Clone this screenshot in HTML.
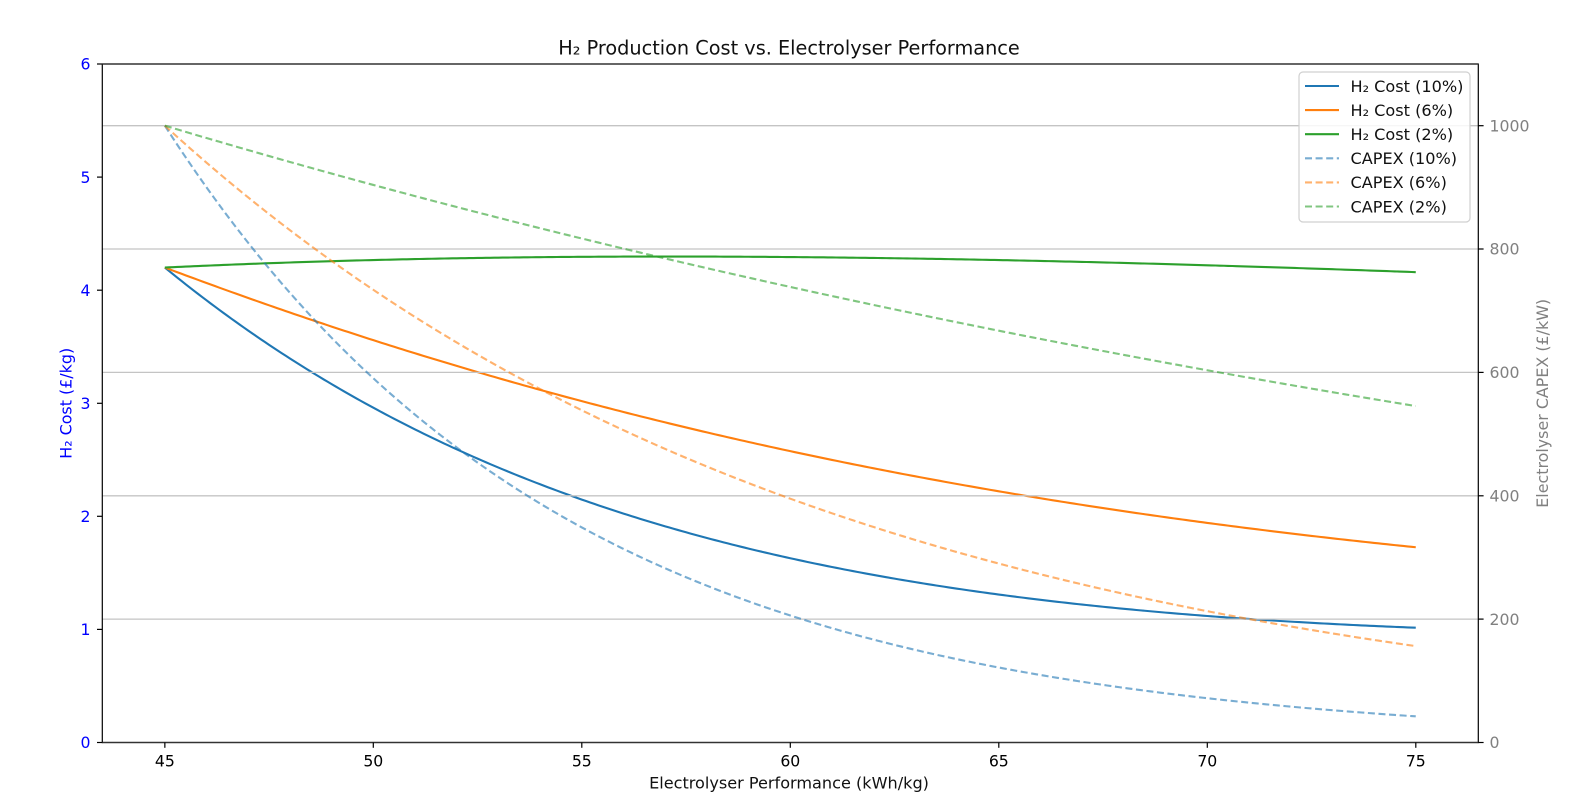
<!DOCTYPE html>
<html><head><meta charset="utf-8">
<style>
html,body{margin:0;padding:0;background:#fff;}
svg{display:block;}
text{font-family:"DejaVu Sans","Liberation Sans",sans-serif;}
</style></head>
<body>
<svg id="c" width="1570" height="804" viewBox="0 0 1570 804" xmlns="http://www.w3.org/2000/svg">
<rect width="1570" height="804" fill="#fff"/>
<g id="solid" fill="none" stroke-width="2.1" stroke-linejoin="round"></g>
<g id="grid" stroke="#c4c4c4" stroke-width="1.3">
<line x1="102.3" x2="1478.3" y1="619.1" y2="619.1"/>
<line x1="102.3" x2="1478.3" y1="495.8" y2="495.8"/>
<line x1="102.3" x2="1478.3" y1="372.4" y2="372.4"/>
<line x1="102.3" x2="1478.3" y1="249.0" y2="249.0"/>
<line x1="102.3" x2="1478.3" y1="125.7" y2="125.7"/>
</g>
<g id="dashed" fill="none" stroke-width="2.1" stroke-dasharray="7 3.6" stroke-opacity="0.6"></g>
<!-- spines -->
<g stroke="#000" stroke-width="1.2">
<line x1="102.3" x2="102.3" y1="63.5" y2="743.1"/>
<line x1="1478.3" x2="1478.3" y1="63.5" y2="743.1"/>
<line x1="102.3" x2="1478.3" y1="64" y2="64" stroke="#333" stroke-width="1.5"/>
<line x1="102.3" x2="1478.3" y1="742.5" y2="742.5" stroke="#333" stroke-width="1.5"/>
</g>
<!-- ticks -->
<g stroke="#000" stroke-width="1.2">
<line x1="97" x2="102.3" y1="742.5" y2="742.5"/>
<line x1="97" x2="102.3" y1="629.4" y2="629.4"/>
<line x1="97" x2="102.3" y1="516.3" y2="516.3"/>
<line x1="97" x2="102.3" y1="403.3" y2="403.3"/>
<line x1="97" x2="102.3" y1="290.2" y2="290.2"/>
<line x1="97" x2="102.3" y1="177.1" y2="177.1"/>
<line x1="97" x2="102.3" y1="64" y2="64"/>
<line x1="1478.3" x2="1483.6" y1="742.5" y2="742.5"/>
<line x1="1478.3" x2="1483.6" y1="619.1" y2="619.1"/>
<line x1="1478.3" x2="1483.6" y1="495.8" y2="495.8"/>
<line x1="1478.3" x2="1483.6" y1="372.4" y2="372.4"/>
<line x1="1478.3" x2="1483.6" y1="249.0" y2="249.0"/>
<line x1="1478.3" x2="1483.6" y1="125.7" y2="125.7"/>
<line x1="164.85" x2="164.85" y1="742.5" y2="747.8"/>
<line x1="373.3" x2="373.3" y1="742.5" y2="747.8"/>
<line x1="581.8" x2="581.8" y1="742.5" y2="747.8"/>
<line x1="790.3" x2="790.3" y1="742.5" y2="747.8"/>
<line x1="998.8" x2="998.8" y1="742.5" y2="747.8"/>
<line x1="1207.3" x2="1207.3" y1="742.5" y2="747.8"/>
<line x1="1415.8" x2="1415.8" y1="742.5" y2="747.8"/>
</g>
<!-- left tick labels -->
<g fill="#0000ff" font-size="15.7" text-anchor="end">
<text x="90.5" y="748.2">0</text>
<text x="90.5" y="635.1">1</text>
<text x="90.5" y="522">2</text>
<text x="90.5" y="409">3</text>
<text x="90.5" y="295.9">4</text>
<text x="90.5" y="182.8">5</text>
<text x="90.5" y="69.7">6</text>
</g>
<!-- right tick labels -->
<g fill="#808080" font-size="15.7" text-anchor="start">
<text x="1489.5" y="748.2">0</text>
<text x="1489.5" y="624.8">200</text>
<text x="1489.5" y="501.5">400</text>
<text x="1489.5" y="378.1">600</text>
<text x="1489.5" y="254.7">800</text>
<text x="1489.5" y="131.4">1000</text>
</g>
<!-- x tick labels -->
<g fill="#000" font-size="15.7" text-anchor="middle">
<text x="164.85" y="766.5">45</text>
<text x="373.3" y="766.5">50</text>
<text x="581.8" y="766.5">55</text>
<text x="790.3" y="766.5">60</text>
<text x="998.8" y="766.5">65</text>
<text x="1207.3" y="766.5">70</text>
<text x="1415.8" y="766.5">75</text>
</g>
<text x="789" y="788.5" font-size="16.1" text-anchor="middle" fill="#111">Electrolyser Performance (kWh/kg)</text>
<text x="789" y="54.5" font-size="19.3" text-anchor="middle" fill="#111">H₂ Production Cost vs. Electrolyser Performance</text>
<text x="71.5" y="403.3" font-size="15.9" text-anchor="middle" fill="#0000ff" transform="rotate(-90 71.5 403.3)">H₂ Cost (£/kg)</text>
<text x="1548" y="403.3" font-size="15.9" text-anchor="middle" fill="#808080" transform="rotate(-90 1548 403.3)">Electrolyser CAPEX (£/kW)</text>
<!-- legend -->
<g>
<rect x="1299" y="72" width="171" height="150" rx="4" ry="4" fill="#fff" fill-opacity="0.85" stroke="#d0d0d0" stroke-width="1.2"/>
<g stroke-width="2.1">
<line x1="1305" x2="1339" y1="86" y2="86" stroke="#1f77b4"/>
<line x1="1305" x2="1339" y1="110.1" y2="110.1" stroke="#ff7f0e"/>
<line x1="1305" x2="1339" y1="134.2" y2="134.2" stroke="#2ca02c"/>
<g stroke-dasharray="7 3.6" stroke-opacity="0.6">
<line x1="1305" x2="1339" y1="158.3" y2="158.3" stroke="#1f77b4"/>
<line x1="1305" x2="1339" y1="182.4" y2="182.4" stroke="#ff7f0e"/>
<line x1="1305" x2="1339" y1="206.5" y2="206.5" stroke="#2ca02c"/>
</g>
</g>
<g font-size="16.1" fill="#111">
<text x="1350.5" y="91.8">H₂ Cost (10%)</text>
<text x="1350.5" y="115.9">H₂ Cost (6%)</text>
<text x="1350.5" y="140">H₂ Cost (2%)</text>
<text x="1350.5" y="164.1">CAPEX (10%)</text>
<text x="1350.5" y="188.2">CAPEX (6%)</text>
<text x="1350.5" y="212.3">CAPEX (2%)</text>
</g>
</g>
<script>
(function(){
  var NS="http://www.w3.org/2000/svg";
  function px(x){return 102.3+(x-43.5)*41.697;}
  function pyL(v){return 742.5-v*113.083;}
  function pyR(v){return 742.5-v*0.616818;}
  var rates=[0.10,0.06,0.02], cols=["#1f77b4","#ff7f0e","#2ca02c"];
  var gs=document.getElementById("solid"), gd=document.getElementById("dashed");
  for(var k=0;k<3;k++){
    var r=rates[k], ds="", dd="";
    for(var i=0;i<=300;i++){
      var x=45+i*0.1, t=x-45;
      var cap=1000*Math.pow(1-r,t);
      var cost=x*(cap/12000+0.01);
      ds+=(i?"L":"M")+px(x).toFixed(2)+" "+pyL(cost).toFixed(2);
      dd+=(i?"L":"M")+px(x).toFixed(2)+" "+pyR(cap).toFixed(2);
    }
    var p=document.createElementNS(NS,"path");p.setAttribute("d",ds);p.setAttribute("stroke",cols[k]);gs.appendChild(p);
    var q=document.createElementNS(NS,"path");q.setAttribute("d",dd);q.setAttribute("stroke",cols[k]);gd.appendChild(q);
  }
})();
</script>
</svg>
</body></html>
